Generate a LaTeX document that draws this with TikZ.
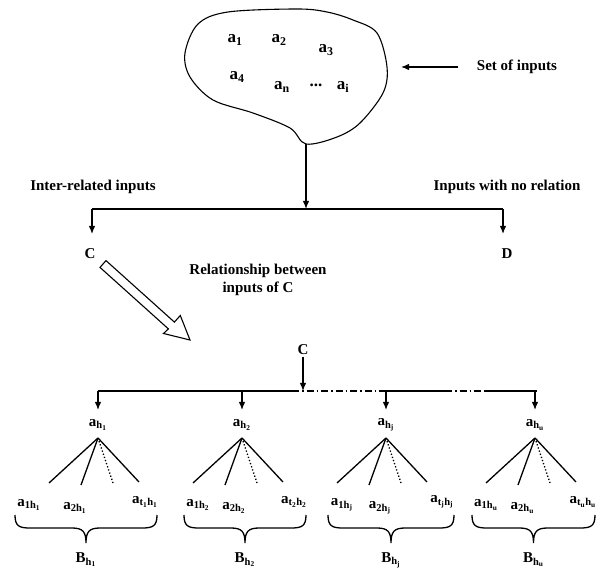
\documentclass[tikz,border=0pt]{standalone}
\usepackage{fontspec}
\setmainfont{Liberation Serif}
\usetikzlibrary{arrows.meta}
\tikzset{
  lbl/.style={font=\fontsize{15}{18}\selectfont\bfseries, inner sep=1pt},
  biglbl/.style={font=\fontsize{17}{20}\selectfont\bfseries, inner sep=1pt},
  dashdot/.style={dash pattern=on 7pt off 3pt on 1.5pt off 3pt},
}
\begin{document}
\begin{tikzpicture}[x=1pt, y=-1pt, line width=1.3pt, >={Latex[length=8pt,width=6.5pt]}]
    \useasboundingbox (0,0) rectangle (606,580);
    % set of inputs
    \draw[line width=1.1pt] plot[smooth cycle, tension=0.55] coordinates {(185,53) (198,24) (228,12) (297,9) (327,12) (353,20) (377,33) (387,67) (383,93) (360,123) (337,137) (306,144) (290,128) (253,113) (213,100) (190,77)};
    \node[biglbl] (a1) at (235,40) {a\textsubscript{1}};
    \node[biglbl] (a2) at (279,40) {a\textsubscript{2}};
    \node[biglbl] (a3) at (326,50) {a\textsubscript{3}};
    \node[biglbl] (a4) at (237,77) {a\textsubscript{4}};
    \node[biglbl] (an) at (282,87) {a\textsubscript{n}};
    \node[biglbl] (dots) at (316,85) {...};
    \node[biglbl] (ai) at (343,87) {a\textsubscript{i}};
    \node[lbl] (soi) at (517,67) {Set of inputs};
    \coordinate (blobE) at (401,67);
    \draw[->] (soi.west) ++(-17,0) -- (blobE);
    % split into C and D
    \coordinate (tip) at (306,144);
    \coordinate (split) at (306,209);
    \coordinate (lc) at (92,209);
    \coordinate (rd) at (503,209);
    \draw[->] (tip) -- (split);
    \draw (lc) -- (rd);
    \node[lbl] at (93,187) {Inter-related inputs};
    \node[lbl] at (507,187) {Inputs with no relation};
    \node[lbl] (C) at (90,254) {C};
    \node[lbl] (D) at (507,254) {D};
    \draw[->] (lc) -- (92,234);
    \draw[->] (rd) -- (503,234);
    \node[lbl, align=center] (rel) at (258,280) {Relationship between\\inputs of C};
    \draw[line width=1.1pt] (106,260.6) -- (174.4,322.1) -- (180.3,315.5) -- (190,340) -- (163.5,333.5) -- (168.4,328.9) -- (100,267.4) -- cycle;
    % second level
    \node[lbl] (C2) at (303,350) {C};
    \coordinate (bus) at (303,391);
    \draw[->] (C2) -- (bus);
    \draw (98,391) -- (292,391);
    \draw[dashdot] (292,391) -- (385,391);
    \draw (385,391) -- (445,391);
    \draw[dashdot] (445,391) -- (484,391);
    \draw (484,391) -- (537,391);
    \foreach \x/\l/\r/\h/\t in {98/15/157/1/1, 242/184/306/2/2, 386/328/454/j/j, 535/472/595/u/u}{
        \pgfmathsetmacro\m{(\l+\r)/2}
        \coordinate (top\h) at (\x,391);
        \draw[->] (top\h) -- ++(0,19);
        \node[lbl] (ah\h) at (\x,425) {a\textsubscript{h\textsubscript{\h}}};
        \coordinate (apex\h) at (\x,438);
        \draw (apex\h) -- ++(-49,45);
        \draw (apex\h) -- ++(-17,47);
        \draw[dotted] (apex\h) -- ++(15,45);
        \draw (apex\h) -- ++(41,44);
        \node[lbl] (x1\h) at (\l+14,505) {a\textsubscript{1h\textsubscript{\h}}};
        \node[lbl] (x2\h) at (\m-11,508) {a\textsubscript{2h\textsubscript{\h}}};
        \node[lbl] (xt\h) at (\r-12,502) {a\textsubscript{t\textsubscript{\t}h\textsubscript{\h}}};
        \draw (\l,515) .. controls (\l,526) and (\l+4,528) .. (\l+15,528) -- (\m-14,528) .. controls (\m-3,528) and (\m,532) .. (\m,543) .. controls (\m,532) and (\m+3,528) .. (\m+14,528) -- (\r-15,528) .. controls (\r-4,528) and (\r,526) .. (\r,515);
        \node[lbl] (B\h) at (\m,560) {B\textsubscript{h\textsubscript{\h}}};
    }
\end{tikzpicture}
\end{document}
